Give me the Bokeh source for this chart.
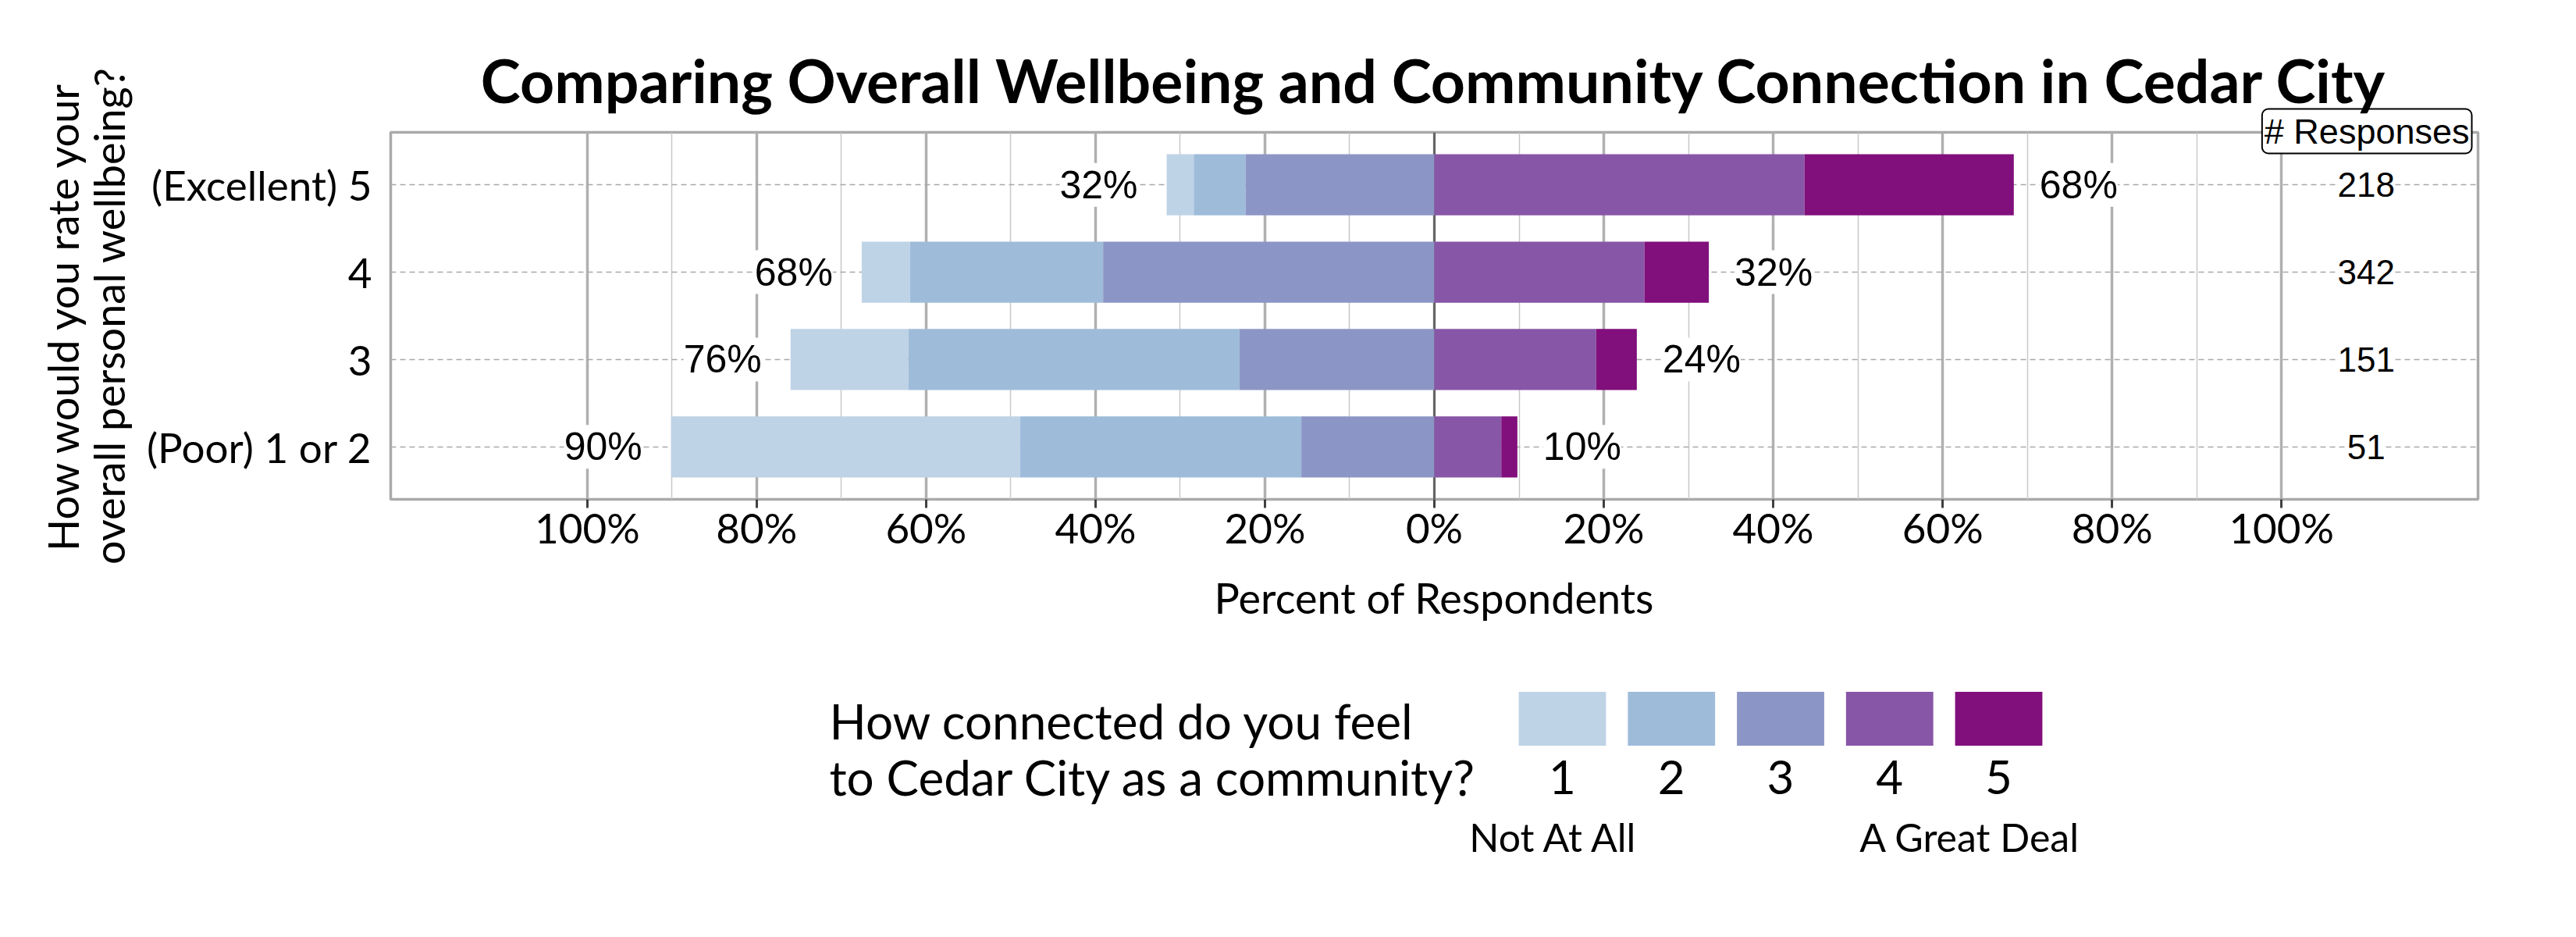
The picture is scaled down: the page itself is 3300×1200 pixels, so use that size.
import numpy as np
from bokeh.plotting import figure
from bokeh.models import ColumnDataSource, Range1d, FixedTicker, LabelSet, Label, Span, Title
from bokeh.layouts import column
from bokeh.core.properties import value
from bokeh.embed import file_html
from bokeh.resources import INLINE

# wellbeing answer groups, bottom to top
wellbeing = ["(Poor) 1 or 2", "3", "4", "(Excellent) 5"]
responses = [51, 151, 342, 218]

# % of each wellbeing group answering 1..5 on "how connected do you feel"
conn_1 = [41.2, 13.9, 5.7, 3.2]
conn_2 = [33.2, 39.1, 22.8, 6.1]
conn_3 = [15.7, 23.0, 39.1, 22.3]
conn_4 = [7.9, 19.1, 24.8, 43.7]
conn_5 = [1.9, 4.8, 7.6, 24.7]

levels = [1, 2, 3, 4, 5]
level_colors = ["#bfd3e6", "#9ebcda", "#8c96c6", "#8856a7", "#810f7c"]
level_ends = ["Not At All", "A Great Deal"]
legend_title = ["How connected do you feel", "to Cedar City as a community?"]

x_ticks = [-100, -80, -60, -40, -20, 0, 20, 40, 60, 80, 100]
x_minor = [-90, -70, -50, -30, -10, 10, 30, 50, 70, 90]
count_col = 110  # x position of the "# Responses" column

TITLE = "Comparing Overall Wellbeing and Community Connection in Cedar City"
FONT = "Lato"
W = 3284
LEFT, RIGHT = 500, 110

ypos = np.arange(len(wellbeing))
c1, c2, c3, c4, c5 = (np.array(c) for c in (conn_1, conn_2, conn_3, conn_4, conn_5))
low = c1 + c2 + c3
high = c4 + c5
zero = np.zeros(len(ypos))
segments = [
    (-low, -(c2 + c3)),
    (-(c2 + c3), -c3),
    (-c3, zero),
    (zero, c4),
    (c4, c4 + c5),
]

p = figure(
    width=W, height=828,
    x_range=Range1d(-123.2, 123.2), y_range=Range1d(-0.6, 3.6),
    toolbar_location=None, output_backend="svg", title=TITLE,
    min_border_left=LEFT, min_border_right=RIGHT, min_border_top=169, min_border_bottom=189,
)
p.outline_line_color = "#aaaaaa"
p.outline_line_width = 3.5
p.title.text_font = FONT
p.title.text_font_style = "bold"
p.title.text_font_size = "77px"
p.title.text_color = "black"
p.title.align = "center"
p.title.standoff = 33

# "# Responses" header box sitting on the top edge of the frame
p.add_layout(Title(text="# Responses", align="right", offset=8, standoff=-54,
                   vertical_align="bottom", text_baseline="middle",
                   text_font="Liberation Sans", text_font_size="45px",
                   text_font_style="normal", text_color="black",
                   background_fill_color="white", border_line_color="black",
                   border_line_width=2, border_radius=8, padding=3), "above")

# axes
xax = p.xaxis[0]
xax.ticker = FixedTicker(ticks=x_ticks, minor_ticks=x_minor)
xax.major_label_overrides = {t: f"{abs(t)}%" for t in x_ticks}
xax.axis_line_color = None
xax.major_tick_out = 11
xax.major_tick_in = 0
xax.major_tick_line_color = "#404040"
xax.major_tick_line_width = 3
xax.minor_tick_line_color = None
xax.major_label_standoff = -7
xax.major_label_text_font = FONT
xax.major_label_text_font_size = "53px"
xax.major_label_text_color = "black"
xax.axis_label = "Percent of Respondents"
xax.axis_label_text_font = FONT
xax.axis_label_text_font_size = "54px"
xax.axis_label_text_font_style = "normal"
xax.axis_label_text_color = "black"
xax.axis_label_standoff = 23

yax = p.yaxis[0]
yax.ticker = FixedTicker(ticks=list(ypos))
yax.major_label_overrides = {int(i): w for i, w in zip(ypos, wellbeing)}
yax.axis_line_color = None
yax.major_tick_out = 0
yax.major_tick_in = 0
yax.minor_tick_line_color = None
yax.major_label_standoff = 24
yax.major_label_text_font = FONT
yax.major_label_text_font_size = "53px"
yax.major_label_text_color = "black"
yax.axis_label = "How would you rate your\noverall personal wellbeing?"
yax.axis_label_text_font = FONT
yax.axis_label_text_font_size = "54px"
yax.axis_label_text_font_style = "normal"
yax.axis_label_text_color = "black"
yax.axis_label_text_line_height = 0.9
yax.axis_label_standoff = 13

# grids
p.xgrid.grid_line_color = "#b0b0b0"
p.xgrid.grid_line_width = 3.5
p.xgrid.minor_grid_line_color = "#c8c8c8"
p.xgrid.minor_grid_line_width = 1.5
p.ygrid.grid_line_color = "#a8a8a8"
p.ygrid.grid_line_width = 1.5
p.ygrid.grid_line_dash = "7 5"
p.add_layout(Span(location=0, dimension="height", line_color="#666666",
                  line_width=3, level="underlay"))

# diverging stacked bars
for (left, right), col in zip(segments, level_colors):
    p.hbar(y=ypos, left=left, right=right, height=0.7,
           fill_color=col, line_color=None)

labels = ColumnDataSource(dict(
    y=ypos,
    low=-low,
    high=high,
    low_txt=[f"{v:.0f}%" for v in low],
    high_txt=[f"{v:.0f}%" for v in high],
    nx=[count_col] * len(ypos),
    n=[str(v) for v in responses],
))
pct_style = dict(text_font=value("Liberation Sans"), text_font_size=value("50px"),
                 text_baseline="middle", text_color="black",
                 background_fill_color="white")
p.add_layout(LabelSet(x="low", y="y", text="low_txt", source=labels, text_align="right",
                      x_offset=-37, **pct_style))
p.add_layout(LabelSet(x="high", y="y", text="high_txt", source=labels, text_align="left",
                      x_offset=33, **pct_style))
p.add_layout(LabelSet(x="nx", y="y", text="n", source=labels, text_align="center",
                      text_font=value("Liberation Sans"), text_font_size=value("44px"),
                      text_baseline="middle", text_color="black",
                      background_fill_color="white"))

# legend, drawn on its own scale: one unit per answer level
frame_w = W - LEFT - RIGHT
unit = 139.75
x0 = 1 - (2001 - LEFT) / unit
leg = figure(
    width=W, height=364,
    x_range=Range1d(x0, x0 + frame_w / unit), y_range=Range1d(364, 0),
    toolbar_location=None, output_backend="svg",
    x_axis_location=None, y_axis_location=None,
    min_border_left=LEFT, min_border_right=RIGHT, min_border_top=0, min_border_bottom=0,
)
leg.outline_line_color = None
leg.grid.visible = False
leg.rect(x=levels, y=92, width=0.8, height=69, fill_color=level_colors, line_color=None)
leg.text(x=levels, y=167, text=[str(v) for v in levels], text_align="center",
         text_baseline="alphabetic", text_font=value(FONT), text_font_size="60px",
         text_color="black")
for txt, yy in zip(legend_title, [94, 166]):
    leg.add_layout(Label(x=x0 + (1062 - LEFT) / unit, y=yy, text=txt, text_align="left",
                         text_baseline="alphabetic", text_font=FONT,
                         text_font_size="62px", text_color="black"))
for txt, lv, off in zip(level_ends, [levels[0], levels[-1]], [-11, -37]):
    leg.add_layout(Label(x=lv, y=243, x_offset=off, text=txt, text_align="center",
                         text_baseline="alphabetic", text_font=FONT,
                         text_font_size="50px", text_color="black"))

layout = column(p, leg, spacing=0)
open("out.html", "w").write(file_html(layout, INLINE))
